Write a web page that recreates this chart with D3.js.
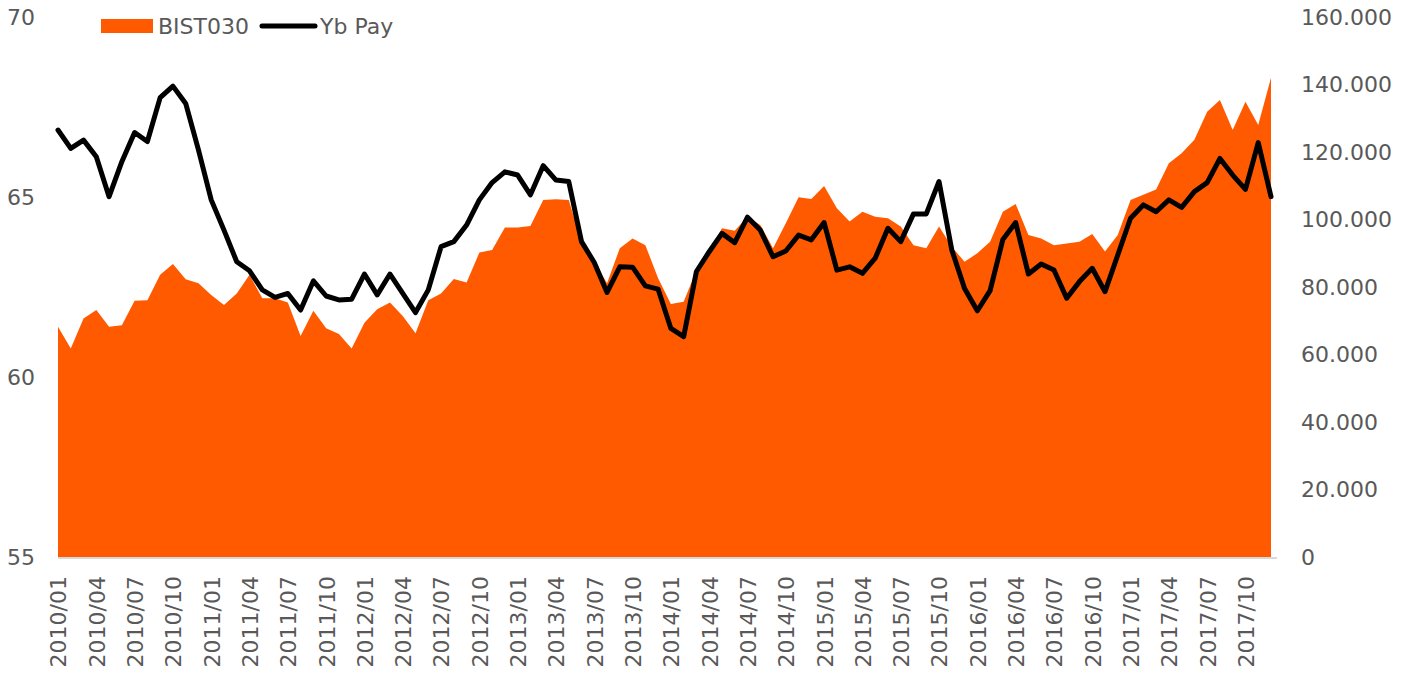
<!DOCTYPE html>
<html>
<head>
<meta charset="utf-8">
<script src="https://cdn.jsdelivr.net/npm/d3@7"></script>
<style>
  html, body { margin: 0; padding: 0; background: #fff; }
  text { font-family: "DejaVu Sans", Verdana, sans-serif; fill: #595959; }
</style>
</head>
<body>
<div id="chart"></div>
<script>
const dims = { width: 1414, height: 676, left: 58, right: 1271, top: 17, bottom: 557 };

// monthly, 2010/01 .. 2017/12
const months = [];
for (let y = 2010; y <= 2017; y++)
    for (let m = 1; m <= 12; m++) months.push(`${y}/${String(m).padStart(2, "0")}`);

// BIST030 index level, thousands (right axis)
const bist = [
    68.2, 61.8, 70.7, 73.2, 68.2, 68.7, 75.9, 76.1, 83.6, 86.8, 82.3, 81.1,
    77.6, 74.7, 78.1, 83.6, 76.7, 76.7, 75.4, 65.5, 73.0, 67.8, 66.1, 61.8,
    69.4, 73.4, 75.4, 71.4, 66.3, 76.1, 78.1, 82.4, 81.3, 90.2, 91.0, 97.6,
    97.6, 98.1, 105.8, 106.0, 105.8, 93.4, 87.5, 81.1, 91.5, 94.4, 92.4, 82.6,
    75.0, 75.6, 85.0, 90.5, 97.4, 96.7, 100.8, 98.4, 91.5, 98.9, 106.6, 106.1,
    109.9, 103.3, 99.4, 102.3, 100.8, 100.4, 97.9, 92.4, 91.5, 97.9, 91.9, 87.5,
    90.0, 93.4, 102.3, 104.6, 95.4, 94.4, 92.4, 92.9, 93.4, 95.7, 90.5, 95.4,
    105.8, 107.3, 108.9, 116.7, 119.6, 123.6, 131.9, 135.4, 126.5, 134.9, 128.0, 142.0
];

// foreign share ("Yb Pay"), % (left axis)
const ybPay = [
    66.86, 66.35, 66.58, 66.12, 65.01, 65.98, 66.79, 66.54, 67.76, 68.08, 67.60, 66.31,
    64.92, 64.08, 63.20, 62.95, 62.42, 62.21, 62.32, 61.86, 62.67, 62.25, 62.14, 62.16,
    62.86, 62.28, 62.86, 62.32, 61.79, 62.42, 63.62, 63.76, 64.22, 64.92, 65.40, 65.70,
    65.61, 65.06, 65.87, 65.47, 65.43, 63.76, 63.18, 62.35, 63.06, 63.05, 62.53, 62.44,
    61.35, 61.12, 62.93, 63.48, 63.99, 63.73, 64.44, 64.08, 63.34, 63.50, 63.94, 63.81,
    64.29, 62.97, 63.06, 62.88, 63.30, 64.13, 63.76, 64.53, 64.53, 65.43, 63.53, 62.46,
    61.84, 62.40, 63.82, 64.29, 62.86, 63.14, 62.97, 62.19, 62.65, 63.02, 62.37, 63.39,
    64.41, 64.78, 64.59, 64.92, 64.71, 65.15, 65.40, 66.07, 65.61, 65.21, 66.51, 65.01
];

const leftTicks = [55, 60, 65, 70];
const rightTicks = [0, 20, 40, 60, 80, 100, 120, 140, 160];
const xTicks = months.filter((d, i) => i % 3 === 0);

const x = d3.scalePoint().domain(months).range([dims.left, dims.right]);
const yL = d3.scaleLinear().domain([55, 70]).range([dims.bottom, dims.top]);
const yR = d3.scaleLinear().domain([0, 160]).range([dims.bottom, dims.top]);

const svg = d3.select("#chart").append("svg")
    .attr("width", dims.width)
    .attr("height", dims.height);

svg.append("path")
    .datum(bist)
    .attr("fill", "#ff5a00")
    .attr("d", d3.area()
        .x((d, i) => x(months[i]))
        .y0(yR(0))
        .y1(d => yR(d)));

svg.append("line")
    .attr("x1", dims.left).attr("x2", dims.right + 6)
    .attr("y1", dims.bottom + 1).attr("y2", dims.bottom + 1)
    .attr("stroke", "#d9d9d9").attr("stroke-width", 2);

svg.append("path")
    .datum(ybPay)
    .attr("fill", "none")
    .attr("stroke", "#000")
    .attr("stroke-width", 5)
    .attr("stroke-linejoin", "round")
    .attr("stroke-linecap", "round")
    .attr("d", d3.line()
        .x((d, i) => x(months[i]))
        .y(d => yL(d)));

// left axis
svg.append("g")
    .attr("transform", `translate(${dims.left - 23},0)`)
    .call(d3.axisLeft(yL).tickValues(leftTicks).tickSize(0).tickPadding(0))
    .call(g => g.select(".domain").remove())
    .call(g => g.selectAll("text").style("font-size", "22px").attr("fill", "#595959"));

// right axis
svg.append("g")
    .attr("transform", "translate(1301,0)")
    .call(d3.axisRight(yR).tickValues(rightTicks).tickSize(0).tickPadding(0)
        .tickFormat(d => d === 0 ? "0" : d3.format(".3f")(d)))
    .call(g => g.select(".domain").remove())
    .call(g => g.selectAll("text").style("font-size", "22px").attr("fill", "#595959"));

// bottom axis
svg.append("g")
    .attr("transform", `translate(0,${dims.bottom})`)
    .call(d3.axisBottom(x).tickValues(xTicks).tickSize(0))
    .call(g => g.select(".domain").remove())
    .call(g => g.selectAll("text")
        .style("font-size", "22px")
        .attr("fill", "#595959")
        .attr("text-anchor", "end")
        .attr("transform", "rotate(-90)")
        .attr("x", -19)
        .attr("y", 0)
        .attr("dy", "0.36em"));

// legend
const legend = svg.append("g");
legend.append("rect")
    .attr("x", 101).attr("y", 19).attr("width", 52).attr("height", 14)
    .attr("fill", "#ff5a00");
legend.append("text")
    .attr("x", 158).attr("y", 26).attr("dy", "0.36em")
    .style("font-size", "22px")
    .text("BIST030");
legend.append("line")
    .attr("x1", 262).attr("x2", 315).attr("y1", 26).attr("y2", 26)
    .attr("stroke", "#000").attr("stroke-width", 5).attr("stroke-linecap", "round");
legend.append("text")
    .attr("x", 320).attr("y", 26).attr("dy", "0.36em")
    .style("font-size", "22px")
    .text("Yb Pay");
</script>
</body>
</html>
